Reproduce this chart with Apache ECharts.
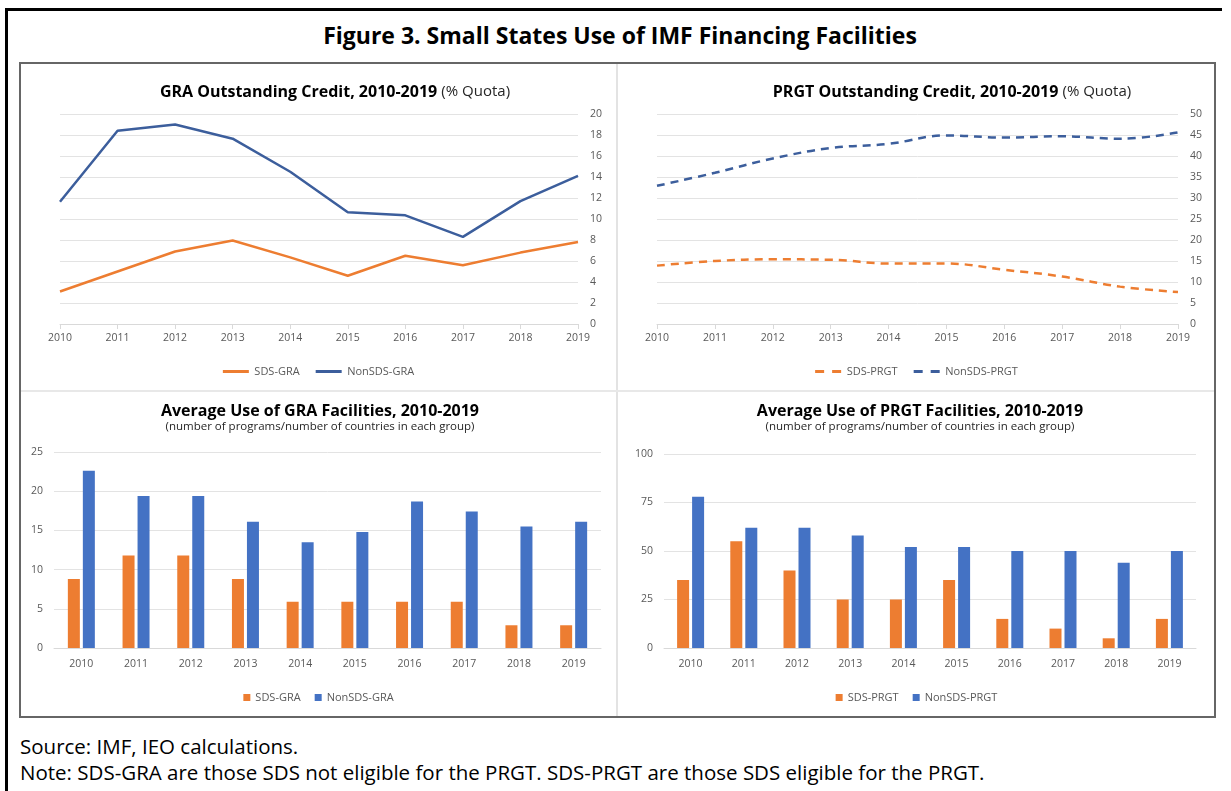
<!DOCTYPE html>
<html>
<head>
<meta charset="utf-8">
<script src="https://cdn.jsdelivr.net/npm/echarts@6/dist/echarts.min.js"></script>
<style>
  body { margin: 0; width: 1231px; height: 791px; background: #fff; position: relative; overflow: hidden;
         font-family: "Open Sans", "Noto Sans", sans-serif; }
  .frame { position: absolute; left: 5px; top: 8px; width: 1217px; height: 800px;
           border-top: 3px solid #000; border-left: 3px solid #000; box-sizing: border-box; }
  .box { position: absolute; left: 19px; top: 62px; width: 1197px; height: 656px;
         border: 2px solid #666; box-sizing: border-box; }
  .vdiv { position: absolute; left: 616px; top: 64px; width: 2px; height: 652px; background: #e3e3e3; }
  .hdiv { position: absolute; left: 21px; top: 390px; width: 1193px; height: 2px; background: #e8e8e8; }
  .panel { position: absolute; }
  h1 { position: absolute; left: 0; width: 1240px; top: 19px; margin: 0; text-align: center;
       font-size: 23px; font-weight: 700; color: #000; line-height: 32px; }
  .note { position: absolute; left: 20px; font-size: 20.5px; color: #000; line-height: 26px; white-space: nowrap; }
</style>
</head>
<body>
<div class="frame"></div>
<h1>Figure 3. Small States Use of IMF Financing Facilities</h1>
<div class="box"></div>
<div class="vdiv"></div>
<div class="hdiv"></div>
<div id="tl" class="panel" style="left:21px;top:64px;width:595px;height:326px"></div>
<div id="tr" class="panel" style="left:619px;top:64px;width:595px;height:326px"></div>
<div id="bl" class="panel" style="left:21px;top:392px;width:595px;height:324px"></div>
<div id="br" class="panel" style="left:619px;top:392px;width:595px;height:324px"></div>
<div class="note" style="top:733px">Source: IMF, IEO calculations.</div>
<div class="note" style="top:759px">Note: SDS-GRA are those SDS not eligible for the PRGT. SDS-PRGT are those SDS eligible for the PRGT.</div>
<script>
var years = ['2010', '2011', '2012', '2013', '2014', '2015', '2016', '2017', '2018', '2019'];

// GRA outstanding credit (% quota)
var sdsGraCredit = [3.1, 5.0, 6.9, 7.95, 6.35, 4.6, 6.5, 5.6, 6.8, 7.8];
var nonSdsGraCredit = [11.65, 18.4, 19.0, 17.65, 14.5, 10.65, 10.35, 8.3, 11.7, 14.1];

// PRGT outstanding credit (% quota)
var sdsPrgtCredit = [13.9, 15.0, 15.4, 15.3, 14.4, 14.4, 12.9, 11.3, 8.9, 7.6];
var nonSdsPrgtCredit = [32.9, 36.0, 39.4, 41.9, 42.9, 44.9, 44.4, 44.7, 44.1, 45.6];

// average use of facilities
var sdsGraUse = [8.8, 11.8, 11.8, 8.8, 5.9, 5.9, 5.9, 5.9, 2.9, 2.9];
var nonSdsGraUse = [22.6, 19.4, 19.4, 16.1, 13.5, 14.8, 18.7, 17.4, 15.5, 16.1];
var sdsPrgtUse = [35, 55, 40, 25, 25, 35, 15, 10, 5, 15];
var nonSdsPrgtUse = [78, 62, 62, 58, 52, 52, 50, 50, 44, 50];

var FONT = '"Open Sans", "Noto Sans", sans-serif';
var GREY = '#595959';
var ORANGE = '#ED7D31';
var LINE_BLUE = '#3C5E9C';
var BAR_BLUE = '#4472C4';

// legend icons for the line charts (solid bar / dashes)
var SOLID_ICON = 'path://M0,0h26v3h-26z';
var DASH_ICON = 'path://M0,0h9v3h-9z M17,0h9v3h-9z';

function titleOf(x, y, bold, normal, sub) {
  var t = {
    left: x, top: y, textAlign: 'center',
    text: normal ? '{b|' + bold + '} {n|' + normal + '}' : bold,
    textStyle: {
      fontFamily: FONT, fontSize: 16, fontWeight: 700, color: '#000',
      rich: {
        b: { fontFamily: FONT, fontSize: 16, fontWeight: 700, color: '#000' },
        n: { fontFamily: FONT, fontSize: 15, fontWeight: 400, color: '#262626' }
      }
    }
  };
  if (sub) {
    t.subtext = sub;
    t.itemGap = 2;
    t.subtextStyle = { fontFamily: FONT, fontSize: 11.5, color: '#262626' };
  }
  return t;
}

function legendOf(icon, w, h, gap) {
  return {
    bottom: 8, left: 'center', icon: icon, itemWidth: w, itemHeight: h, itemGap: gap,
    textStyle: { fontFamily: FONT, fontSize: 11, color: GREY }
  };
}

function lineChart(el, opt) {
  var chart = echarts.init(document.getElementById(el));
  chart.setOption({
    animation: false,
    title: titleOf(opt.tx, 15, opt.title, '(% Quota)'),
    legend: legendOf(opt.icon, 27, 3, 16),
    grid: opt.grid,
    xAxis: {
      type: 'category', data: years, boundaryGap: false,
      axisLine: { lineStyle: { color: '#D9D9D9' } },
      axisTick: { show: true, length: 5, lineStyle: { color: '#D9D9D9' } },
      axisLabel: { fontFamily: FONT, fontSize: 10.5, color: GREY, margin: 9 }
    },
    yAxis: {
      type: 'value', position: 'right', min: 0, max: opt.max, interval: opt.interval,
      axisLine: { show: false }, axisTick: { show: false },
      axisLabel: { fontFamily: FONT, fontSize: 10.5, color: GREY, margin: 12 },
      splitLine: { lineStyle: { color: '#E3E3E3' } }
    },
    series: [
      { name: opt.names[0], type: 'line', data: opt.data[0], symbol: 'none', smooth: opt.smooth,
        lineStyle: { color: ORANGE, width: 2.5, type: opt.dash }, itemStyle: { color: ORANGE } },
      { name: opt.names[1], type: 'line', data: opt.data[1], symbol: 'none', smooth: opt.smooth,
        lineStyle: { color: LINE_BLUE, width: 2.5, type: opt.dash }, itemStyle: { color: LINE_BLUE } }
    ]
  });
}

function barChart(el, opt) {
  var chart = echarts.init(document.getElementById(el));
  chart.setOption({
    animation: false,
    title: titleOf(opt.tx, 6, opt.title, null, '(number of programs/number of countries in each group)'),
    legend: legendOf('rect', 7, 7, 14),
    grid: opt.grid,
    xAxis: {
      type: 'category', data: years,
      axisLine: { lineStyle: { color: '#D9D9D9' } },
      axisTick: { show: false },
      axisLabel: { fontFamily: FONT, fontSize: 10.5, color: GREY, margin: 11 }
    },
    yAxis: {
      type: 'value', min: 0, max: opt.max, interval: opt.interval,
      axisLine: { show: false }, axisTick: { show: false },
      axisLabel: { fontFamily: FONT, fontSize: 10.5, color: GREY, margin: 11 },
      splitLine: { lineStyle: { color: '#E3E3E3' } }
    },
    series: [
      { name: opt.names[0], type: 'bar', data: opt.data[0], barWidth: 12, barGap: '25%',
        itemStyle: { color: ORANGE } },
      { name: opt.names[1], type: 'bar', data: opt.data[1], barWidth: 12, barGap: '25%',
        itemStyle: { color: BAR_BLUE } }
    ]
  });
}

lineChart('tl', {
  tx: 309, title: 'GRA Outstanding Credit, 2010-2019',
  grid: { left: 39, right: 38, top: 50, bottom: 66 },
  max: 20, interval: 2, smooth: false, dash: 'solid', icon: SOLID_ICON,
  names: ['SDS-GRA', 'NonSDS-GRA'], data: [sdsGraCredit, nonSdsGraCredit]
});
lineChart('tr', {
  tx: 328, title: 'PRGT Outstanding Credit, 2010-2019',
  grid: { left: 38, right: 36, top: 50, bottom: 66 },
  max: 50, interval: 5, smooth: 0.4, dash: [8, 6], icon: DASH_ICON,
  names: ['SDS-PRGT', 'NonSDS-PRGT'], data: [sdsPrgtCredit, nonSdsPrgtCredit]
});
barChart('bl', {
  tx: 294, title: 'Average Use of GRA Facilities, 2010-2019',
  grid: { left: 33, right: 15, top: 60, bottom: 68 },
  max: 25, interval: 5,
  names: ['SDS-GRA', 'NonSDS-GRA'], data: [sdsGraUse, nonSdsGraUse]
});
barChart('br', {
  tx: 296, title: 'Average Use of PRGT Facilities, 2010-2019',
  grid: { left: 45, right: 18, top: 62, bottom: 68 },
  max: 100, interval: 25,
  names: ['SDS-PRGT', 'NonSDS-PRGT'], data: [sdsPrgtUse, nonSdsPrgtUse]
});
</script>
</body>
</html>
